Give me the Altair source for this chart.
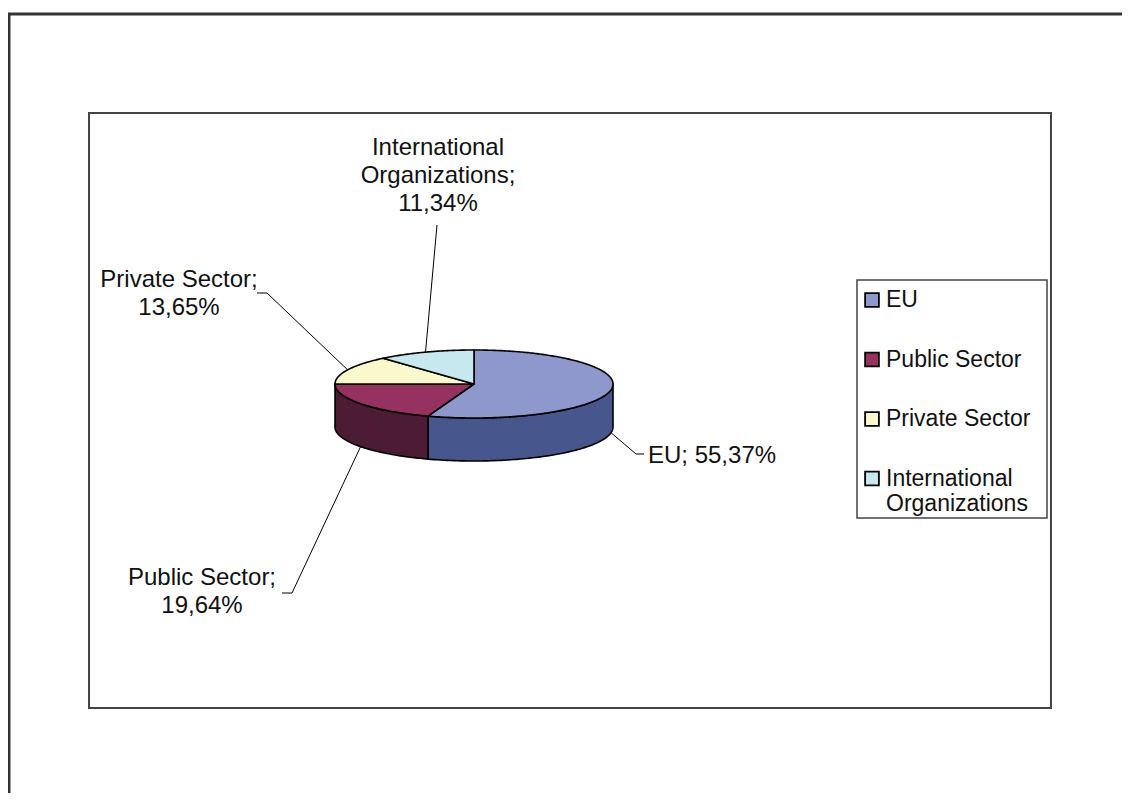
import altair as alt
import pandas as pd
import numpy as np

# ---------------- data ----------------
categories = ["EU", "Public Sector", "Private Sector", "International Organizations"]
shares = [55.37, 19.64, 13.65, 11.34]
label_name_lines = [["EU"], ["Public Sector"], ["Private Sector"], ["International", "Organizations"]]
label_one_line = [True, False, False, False]
legend_lines = [["EU"], ["Public Sector"], ["Private Sector"], ["International", "Organizations"]]

# ---------------- styles / layout (page pixels) ----------------
top_colors = ["#8f98cc", "#96325f", "#fbf9cc", "#c6e8ee"]
side_colors = ["#47578e", "#4b1c34", "#7d7c66", "#637477"]
CX, CY, RX, RY, DEPTH = 474, 384, 139, 34, 43
FONT = "Liberation Sans"
FS = 24
LEG_FS = 23
LINE_H = 28
W, H = 1114, 785
OFF = 8
label_layout = {
    "EU": dict(x=648, y=456, align="left", path=[(636, 454), (644, 454)]),
    "Public Sector": dict(x=202, y=578, align="center", path=[(292, 593), (282, 593)]),
    "Private Sector": dict(x=179, y=280, align="center", path=[(267, 293), (257, 293)]),
    "International Organizations": dict(x=438, y=148, align="center", path=[(437, 225)]),
}
LEG_SQ_X, LEG_TX_X, LEG_Y0, LEG_STEP, LEG_LH = 872, 886, 300, 59.5, 25

xs = alt.Scale(domain=[OFF, OFF + W], nice=False, zero=False)
ys = alt.Scale(domain=[OFF, OFF + H], nice=False, zero=False, reverse=True)
X = lambda f="x": alt.X(f"{f}:Q", scale=xs, axis=None)
Y = lambda f="y": alt.Y(f"{f}:Q", scale=ys, axis=None)


def pt(deg, dy=0.0):
    t = np.deg2rad(deg)
    return CX + RX * np.sin(t), CY - RY * np.cos(t) + dy


# angles of slices (clockwise from 12 o'clock)
cum = np.cumsum([0] + shares)
angles = [(cum[i] / 100 * 360, cum[i + 1] / 100 * 360) for i in range(len(shares))]

layers = []

# inner frame (plot area box)
one = pd.DataFrame({"a": [0]})
layers.append(alt.Chart(one).mark_rect(fill="white", stroke="#444", strokeWidth=2).encode(
    x=alt.value(89 - OFF), x2=alt.value(1051 - OFF), y=alt.value(113 - OFF), y2=alt.value(708 - OFF)))


def poly_layer(points, fill, sw=1.6):
    df = pd.DataFrame({"x": [p[0] for p in points], "y": [p[1] for p in points], "i": range(len(points))})
    return alt.Chart(df).mark_line(fill=fill, stroke="black", strokeWidth=sw, interpolate="linear-closed",
                                   strokeJoin="round").encode(x=X(), y=Y(), order="i:Q")


# side walls (front half, 90..270 deg)
for k, (a1, a2) in enumerate(angles):
    lo, hi = max(a1, 90), min(a2, 270)
    if hi <= lo:
        continue
    ts = np.linspace(lo, hi, 80)
    top = [pt(t) for t in ts]
    bot = [pt(t, DEPTH) for t in ts[::-1]]
    layers.append(poly_layer(top + bot, side_colors[k]))

# top faces
for k, (a1, a2) in enumerate(angles):
    ts = np.linspace(a1, a2, max(10, int((a2 - a1) * 1.5)))
    pts = [(CX, CY)] + [pt(t) for t in ts]
    layers.append(poly_layer(pts, top_colors[k]))

# leader lines and labels
lead_rows, text_rows = [], []
for k, cat in enumerate(categories):
    a1, a2 = angles[k]
    mid = (a1 + a2) / 2
    dy = DEPTH if 90 < mid < 270 else 0
    lay = label_layout[cat]
    path = [pt(mid, dy)] + lay["path"]
    for j, (px, py) in enumerate(path):
        lead_rows.append({"cat": cat, "i": j, "x": px, "y": py})
    pct = f"{shares[k]:.2f}".replace(".", ",") + "%"
    names = list(label_name_lines[k])
    if label_one_line[k]:
        lines = [" ".join(names) + "; " + pct]
    else:
        names[-1] = names[-1] + ";"
        lines = names + [pct]
    for j, s in enumerate(lines):
        text_rows.append({"t": s, "x": lay["x"], "y": lay["y"] + j * LINE_H, "align": lay["align"]})

lead_df = pd.DataFrame(lead_rows)
layers.append(alt.Chart(lead_df).mark_line(color="black", strokeWidth=1).encode(
    x=X(), y=Y(), detail="cat:N", order="i:Q"))

tdf = pd.DataFrame(text_rows)
for al in ["left", "center"]:
    sub = tdf[tdf["align"] == al]
    layers.append(alt.Chart(sub).mark_text(align=al, baseline="middle", font=FONT, fontSize=FS, color="#111").encode(
        x=X(), y=Y(), text="t:N"))

# legend box
layers.append(alt.Chart(one).mark_rect(fill="white", stroke="#444", strokeWidth=1.5).encode(
    x=alt.value(857 - OFF), x2=alt.value(1047 - OFF), y=alt.value(280 - OFF), y2=alt.value(518 - OFF)))

sq_rows, lt_rows = [], []
for k, cat in enumerate(categories):
    yc = LEG_Y0 + k * LEG_STEP
    sq_rows.append({"x": LEG_SQ_X, "y": yc, "c": top_colors[k]})
    for j, s in enumerate(legend_lines[k]):
        lt_rows.append({"x": LEG_TX_X, "y": yc + j * LEG_LH, "t": s})
layers.append(alt.Chart(pd.DataFrame(sq_rows)).mark_square(size=190, filled=True, stroke="black", strokeWidth=1.8,
                                                            opacity=1).encode(
    x=X(), y=Y(), fill=alt.Fill("c:N", scale=None)))
layers.append(alt.Chart(pd.DataFrame(lt_rows)).mark_text(align="left", baseline="middle", font=FONT, fontSize=LEG_FS,
                                                          color="#111").encode(x=X(), y=Y(), text="t:N"))

# outer frame (left & top edges)
layers.append(alt.Chart(one).mark_rule(color="#333", strokeWidth=3).encode(
    x=alt.value(9 - OFF), y=alt.value(14 - OFF), y2=alt.value(H)))
layers.append(alt.Chart(one).mark_rule(color="#333", strokeWidth=3).encode(
    x=alt.value(8 - OFF), x2=alt.value(W), y=alt.value(14 - OFF)))

chart = alt.layer(*layers).properties(
    width=W, height=H, padding=0, autosize=alt.AutoSizeParams(type="none")
).configure_view(strokeWidth=0)

chart.save("out.html", embed_options={"renderer": "svg", "actions": False})
